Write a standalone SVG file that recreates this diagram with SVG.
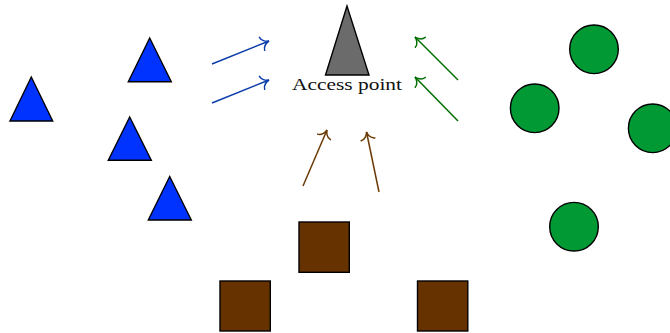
<svg xmlns="http://www.w3.org/2000/svg" width="670" height="333" viewBox="0 0 670 333">
<defs>
<style>
.tri{fill:#0033ff;stroke:#000;stroke-width:1.4;stroke-linejoin:miter}
.cir{fill:#009933;stroke:#000;stroke-width:1.4}
.sq{fill:#663300;stroke:#000;stroke-width:1.4}
.ap{fill:#6b6b6b;stroke:#000;stroke-width:1.4}
.ab{stroke:#0a3caa;stroke-width:1.5;fill:none}
.ag{stroke:#006e00;stroke-width:1.5;fill:none}
.ar{stroke:#6b3a06;stroke-width:1.5;fill:none}
.lbl{font-family:"Liberation Serif","Times New Roman",serif;font-size:16.5px;fill:#111}
</style>
<marker id="mb" markerUnits="userSpaceOnUse" viewBox="-10 -9 12 18" refX="0" refY="0" markerWidth="12" markerHeight="18" orient="auto" overflow="visible">
<path d="M-7.5,-7 C-7,-2.5 -2.5,-0.4 0,0 C-2.5,0.4 -7,2.5 -7.5,7" fill="none" stroke="#0a3caa" stroke-width="1.5" stroke-linecap="round"/>
</marker>
<marker id="mg" markerUnits="userSpaceOnUse" viewBox="-10 -9 12 18" refX="0" refY="0" markerWidth="12" markerHeight="18" orient="auto" overflow="visible">
<path d="M-7.5,-7 C-7,-2.5 -2.5,-0.4 0,0 C-2.5,0.4 -7,2.5 -7.5,7" fill="none" stroke="#006e00" stroke-width="1.5" stroke-linecap="round"/>
</marker>
<marker id="mr" markerUnits="userSpaceOnUse" viewBox="-10 -9 12 18" refX="0" refY="0" markerWidth="12" markerHeight="18" orient="auto" overflow="visible">
<path d="M-7.5,-7 C-7,-2.5 -2.5,-0.4 0,0 C-2.5,0.4 -7,2.5 -7.5,7" fill="none" stroke="#6b3a06" stroke-width="1.5" stroke-linecap="round"/>
</marker>
</defs>
<rect width="670" height="333" fill="#fff"/>
<g id="connectors">
<line class="ab" x1="212" y1="64" x2="269" y2="41" marker-end="url(#mb)"/>
<line class="ab" x1="212" y1="103" x2="269" y2="80" marker-end="url(#mb)"/>
<line class="ag" x1="458" y1="80" x2="415" y2="37" marker-end="url(#mg)"/>
<line class="ag" x1="458" y1="121" x2="415" y2="77" marker-end="url(#mg)"/>
<line class="ar" x1="303" y1="186" x2="327" y2="130" marker-end="url(#mr)"/>
<line class="ar" x1="379" y1="192" x2="366.5" y2="132" marker-end="url(#mr)"/>
</g>
<g id="access-point">
<polygon class="ap" points="347,6 325.5,75 369,75"/>
<text class="lbl" x="292" y="89.5" textLength="110" lengthAdjust="spacingAndGlyphs">Access point</text>
</g>
<g id="tri1"><polygon class="tri" points="31.3,77 10,121 52.7,121"/></g>
<g id="tri2"><polygon class="tri" points="149.7,38 128.3,81.7 171.3,81.7"/></g>
<g id="tri3"><polygon class="tri" points="129.7,117 108.3,160.3 151.3,160.3"/></g>
<g id="tri4"><polygon class="tri" points="169.7,176.5 148.3,220 191.3,220"/></g>
<g id="circ1"><circle class="cir" cx="594" cy="49.3" r="24.3"/></g>
<g id="circ2"><circle class="cir" cx="534.7" cy="108.3" r="24.3"/></g>
<g id="circ3"><circle class="cir" cx="652.7" cy="128.3" r="24.3"/></g>
<g id="circ4"><circle class="cir" cx="574" cy="226.7" r="24.3"/></g>
<g id="sq1"><rect class="sq" x="299" y="222" width="50.3" height="50.3"/></g>
<g id="sq2"><rect class="sq" x="220" y="281" width="50.3" height="50"/></g>
<g id="sq3"><rect class="sq" x="417.5" y="281" width="50.3" height="50"/></g>
</svg>
